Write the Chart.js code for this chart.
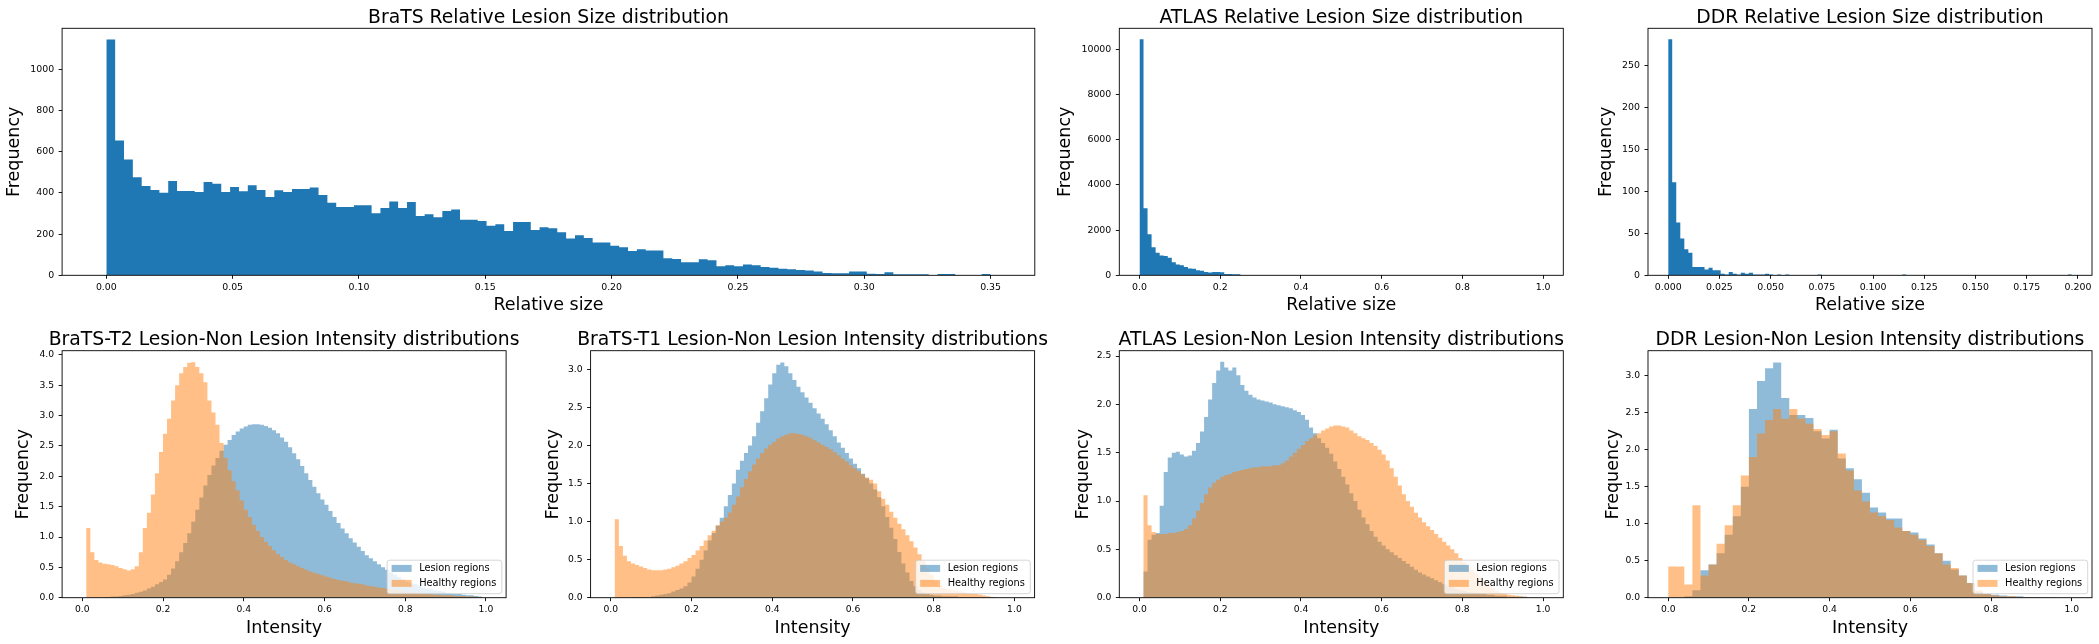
<!DOCTYPE html>
<html>
<head>
<meta charset="utf-8">
<script src="https://cdn.jsdelivr.net/npm/chart.js@4.4.1/dist/chart.umd.min.js"></script>
<style>
  html, body { margin: 0; padding: 0; background: #fff; overflow: hidden; }
  body { width: 2099px; height: 644px; position: relative; }
  canvas { position: absolute; }
</style>
</head>
<body>
<script>
// top row: relative lesion size histograms (100 bins each)
const bratsSizeMax = 0.35;
const bratsSizeCounts = [
  1146, 655, 563, 476, 434, 414, 401, 458, 409, 409,
  405, 453, 445, 405, 429, 408, 438, 414, 380, 413,
  405, 419, 419, 427, 390, 353, 332, 332, 340, 340,
  301, 327, 359, 327, 356, 288, 296, 282, 312, 320,
  270, 270, 264, 241, 248, 215, 259, 259, 220, 233,
  228, 209, 179, 194, 181, 159, 159, 144, 136, 118,
  126, 120, 121, 83, 79, 63, 63, 78, 73, 44,
  49, 44, 53, 49, 40, 37, 32, 29, 26, 23,
  18, 11, 10, 10, 19, 18, 8, 6, 15, 5,
  5, 5, 5, 2, 6, 6, 2, 0, 1, 6
];
const atlasSizeMax = 1.0;
const atlasSizeCounts = [
  10450, 2970, 1820, 1240, 1000, 880, 860, 780, 580, 480,
  440, 370, 300, 290, 220, 200, 150, 120, 150, 150,
  130, 60, 55, 50, 45, 15, 10, 8, 5, 4,
  3, 3, 2, 2, 1, 1, 1, 1, 0, 1,
  0, 1, 0, 0, 1, 0, 0, 0, 0, 0,
  0, 0, 0, 0, 0, 0, 0, 0, 0, 0,
  0, 0, 0, 0, 0, 0, 0, 0, 0, 0,
  0, 0, 0, 0, 0, 0, 0, 0, 0, 0,
  0, 0, 0, 0, 0, 0, 0, 0, 0, 0,
  0, 0, 0, 0, 0, 0, 0, 0, 0, 1
];
const ddrSizeMax = 0.197;
const ddrSizeCounts = [
  282, 111, 63, 44, 31, 27, 10, 10, 10, 7,
  9, 6, 6, 2, 1, 4, 2, 1, 3, 2,
  3, 1, 1, 1, 2, 1, 0, 1, 0, 1,
  0, 0, 0, 0, 0, 0, 0, 1, 0, 0,
  0, 0, 0, 0, 0, 0, 0, 0, 0, 0,
  0, 0, 0, 0, 0, 0, 0, 0, 1, 0,
  0, 0, 0, 0, 0, 0, 0, 0, 0, 0,
  0, 0, 0, 0, 0, 0, 0, 0, 0, 0,
  0, 0, 0, 0, 0, 0, 0, 0, 0, 0,
  0, 0, 0, 0, 0, 0, 0, 0, 0, 1
];

// bottom row: intensity densities on [0, 1]
const t2Lesion = [
  0, 0, 0, 0, 0, 0.01, 0.01, 0.02, 0.02, 0.03,
  0.04, 0.05, 0.06, 0.08, 0.1, 0.12, 0.15, 0.18, 0.22, 0.26,
  0.3, 0.38, 0.48, 0.6, 0.75, 0.9, 1.06, 1.25, 1.45, 1.65,
  1.85, 2.02, 2.18, 2.3, 2.42, 2.52, 2.6, 2.68, 2.74, 2.79,
  2.82, 2.85, 2.86, 2.86, 2.85, 2.83, 2.8, 2.76, 2.71, 2.64,
  2.57, 2.48, 2.38, 2.28, 2.17, 2.05, 1.94, 1.83, 1.72, 1.62,
  1.53, 1.43, 1.33, 1.23, 1.14, 1.06, 0.98, 0.91, 0.84, 0.77,
  0.7, 0.65, 0.6, 0.55, 0.5, 0.46, 0.42, 0.38, 0.34, 0.3,
  0.26, 0.24, 0.22, 0.2, 0.17, 0.15, 0.14, 0.12, 0.11, 0.1,
  0.08, 0.07, 0.06, 0.06, 0.05, 0.04, 0.04, 0.03, 0.02, 0
];
const t2Healthy = [
  0, 1.15, 0.75, 0.62, 0.58, 0.56, 0.55, 0.54, 0.52, 0.49,
  0.47, 0.45, 0.47, 0.52, 0.75, 1.15, 1.4, 1.7, 2.05, 2.4,
  2.7, 2.95, 3.25, 3.5, 3.7, 3.8, 3.87, 3.88, 3.8, 3.7,
  3.55, 3.25, 3.05, 2.85, 2.55, 2.3, 2.1, 1.92, 1.77, 1.6,
  1.45, 1.33, 1.2, 1.1, 1.0, 0.92, 0.85, 0.78, 0.72, 0.67,
  0.62, 0.58, 0.55, 0.52, 0.49, 0.46, 0.43, 0.41, 0.39, 0.37,
  0.35, 0.33, 0.31, 0.29, 0.28, 0.27, 0.25, 0.24, 0.23, 0.22,
  0.2, 0.19, 0.18, 0.17, 0.16, 0.15, 0.14, 0.13, 0.12, 0.11,
  0.1, 0.09, 0.08, 0.08, 0.07, 0.06, 0.06, 0.05, 0.05, 0.04,
  0.04, 0.04, 0.03, 0.03, 0.03, 0.02, 0.02, 0.02, 0.01, 0
];
const t1Lesion = [
  0, 0, 0, 0, 0, 0.01, 0.01, 0.01, 0.01, 0.01,
  0.02, 0.03, 0.04, 0.05, 0.06, 0.08, 0.1, 0.12, 0.15, 0.2,
  0.28, 0.38, 0.5, 0.62, 0.75, 0.85, 0.95, 1.05, 1.2, 1.35,
  1.5, 1.68, 1.8, 1.9, 2.0, 2.12, 2.3, 2.45, 2.62, 2.8,
  2.95, 3.06, 3.09, 3.04, 2.95, 2.86, 2.77, 2.7, 2.63, 2.56,
  2.49, 2.42, 2.35, 2.28, 2.2, 2.12, 2.04, 1.97, 1.9, 1.83,
  1.76, 1.7, 1.63, 1.57, 1.5, 1.42, 1.32, 1.2, 1.06, 0.92,
  0.77, 0.6, 0.45, 0.33, 0.22, 0.15, 0.1, 0.07, 0.05, 0.04,
  0.03, 0.03, 0.02, 0.02, 0.02, 0.02, 0.01, 0.01, 0.01, 0.01,
  0.01, 0.01, 0.01, 0.01, 0.01, 0.01, 0, 0, 0, 0
];
const t1Healthy = [
  0, 1.03, 0.68, 0.55, 0.48, 0.45, 0.43, 0.41, 0.39, 0.37,
  0.36, 0.36, 0.36, 0.37, 0.38, 0.4, 0.42, 0.45, 0.48, 0.52,
  0.56, 0.62, 0.68, 0.75, 0.82, 0.88, 0.95, 1.0, 1.05, 1.12,
  1.22, 1.33, 1.45, 1.56, 1.66, 1.75, 1.83, 1.9, 1.96, 2.01,
  2.05, 2.09, 2.12, 2.14, 2.16, 2.16, 2.15, 2.14, 2.12, 2.1,
  2.07, 2.04, 2.01, 1.98, 1.95, 1.91, 1.87, 1.83, 1.79, 1.74,
  1.7, 1.66, 1.62, 1.58, 1.55, 1.5, 1.4, 1.3, 1.22, 1.13,
  1.05, 0.97, 0.9, 0.82, 0.74, 0.66, 0.57, 0.48, 0.38, 0.3,
  0.22, 0.16, 0.13, 0.11, 0.1, 0.09, 0.08, 0.07, 0.06, 0.05,
  0.05, 0.04, 0.03, 0.02, 0.01, 0, 0, 0, 0, 0
];
const atlasLesion = [
  0, 0.27, 0.6, 0.65, 0.67, 0.95, 1.3, 1.45, 1.5, 1.51,
  1.48, 1.46, 1.47, 1.52, 1.6, 1.72, 1.87, 2.05, 2.22, 2.35,
  2.44, 2.38, 2.35, 2.38, 2.3, 2.2, 2.14, 2.1, 2.07, 2.05,
  2.04, 2.03, 2.02, 2.0, 1.99, 1.98, 1.97, 1.96, 1.94, 1.92,
  1.89, 1.84, 1.76, 1.7, 1.65, 1.6, 1.55, 1.49, 1.41, 1.33,
  1.25, 1.17, 1.08, 1.0, 0.91, 0.83, 0.76, 0.69, 0.63, 0.58,
  0.54, 0.5, 0.47, 0.44, 0.41, 0.38, 0.35, 0.32, 0.29, 0.26,
  0.24, 0.22, 0.2, 0.18, 0.16, 0.14, 0.12, 0.11, 0.09, 0.08,
  0.07, 0.06, 0.05, 0.05, 0.04, 0.04, 0.03, 0.03, 0.02, 0.02,
  0.02, 0.01, 0.01, 0.01, 0.01, 0.01, 0, 0, 0, 0
];
const atlasHealthy = [
  0, 1.06, 0.75, 0.68, 0.66, 0.66, 0.66, 0.67, 0.67, 0.68,
  0.69, 0.71, 0.75, 0.82, 0.9, 0.98, 1.07, 1.14, 1.19, 1.22,
  1.25, 1.27, 1.28, 1.3, 1.31, 1.32, 1.33, 1.34, 1.35, 1.35,
  1.36, 1.36, 1.36, 1.37, 1.37, 1.39, 1.42, 1.46, 1.5, 1.54,
  1.58, 1.62, 1.65, 1.68, 1.7, 1.73, 1.75, 1.77, 1.78, 1.78,
  1.77, 1.76, 1.73, 1.7, 1.67, 1.65, 1.63, 1.6, 1.57, 1.53,
  1.48, 1.42, 1.34, 1.25, 1.16, 1.07, 1.0, 0.94, 0.88, 0.83,
  0.78, 0.74, 0.7, 0.66, 0.62, 0.58, 0.54, 0.5, 0.46, 0.41,
  0.37, 0.33, 0.29, 0.25, 0.21, 0.17, 0.13, 0.1, 0.07, 0.05,
  0.04, 0.03, 0.025, 0.02, 0.015, 0.01, 0.005, 0, 0, 0
];
// DDR uses 50 bins
const ddrLesion = [
  0, 0, 0.02, 0.1, 0.37, 0.45, 0.6, 0.85, 1.1, 1.5,
  2.55, 2.93, 3.1, 3.18, 2.7, 2.47, 2.47, 2.43, 2.25, 2.15,
  2.27, 1.88, 1.75, 1.6, 1.42, 1.22, 1.15, 1.07, 1.07, 0.9,
  0.88, 0.8, 0.72, 0.6, 0.5, 0.38, 0.3, 0.2, 0.08, 0.05,
  0.04, 0.03, 0.02, 0.02, 0.01, 0.01, 0.005, 0.005, 0, 0
];
const ddrHealthy = [
  0.42, 0.42, 0.18, 1.25, 0.3, 0.45, 0.73, 0.98, 1.25, 1.65,
  1.9, 2.22, 2.4, 2.55, 2.42, 2.55, 2.42, 2.35, 2.28, 2.2,
  2.25, 1.95, 1.72, 1.45, 1.3, 1.15, 1.1, 1.05, 0.95, 0.9,
  0.85, 0.78, 0.7, 0.6, 0.45, 0.4, 0.3, 0.2, 0.1, 0.05,
  0.03, 0.02, 0.02, 0.01, 0.01, 0.005, 0.005, 0, 0, 0
];

// tick labels
const bratsXTicks = ['0.00', '0.05', '0.10', '0.15', '0.20', '0.25', '0.30', '0.35'];
const bratsYTicks = ['0', '200', '400', '600', '800', '1000'];
const atlasXTicks = ['0.0', '0.2', '0.4', '0.6', '0.8', '1.0'];
const atlasYTicks = ['0', '2000', '4000', '6000', '8000', '10000'];
const ddrXTicks = ['0.000', '0.025', '0.050', '0.075', '0.100', '0.125', '0.150', '0.175', '0.200'];
const ddrYTicks = ['0', '50', '100', '150', '200', '250'];
const intensityXTicks = ['0.0', '0.2', '0.4', '0.6', '0.8', '1.0'];
const densityYTicks4 = ['0.0', '0.5', '1.0', '1.5', '2.0', '2.5', '3.0', '3.5', '4.0'];
const densityYTicks3 = ['0.0', '0.5', '1.0', '1.5', '2.0', '2.5', '3.0'];
const densityYTicks25 = ['0.0', '0.5', '1.0', '1.5', '2.0', '2.5'];

const FONT = "'DejaVu Sans', sans-serif";
const BLUE = '#1f77b4';
const BLUE_A = 'rgba(31, 119, 180, 0.5)';
const ORANGE_A = 'rgba(255, 127, 14, 0.5)';
const LABEL_SIZE = 17.5;

Chart.defaults.font.family = FONT;
Chart.defaults.color = '#000';

function binEdges(lo, hi, n) {
  let out = [];
  for (let i = 0; i <= n; i++) out.push(lo + (hi - lo) * i / n);
  return out;
}

function histPoints(edges, counts) {
  let pts = counts.map((c, i) => ({x: edges[i], y: c}));
  pts.push({x: edges[counts.length], y: 0});
  return pts;
}

// frame, title and legend box in matplotlib style
const panelDecor = {
  id: 'panelDecor',
  afterDraw(chart, args, o) {
    const ctx = chart.ctx;
    const a = chart.chartArea;
    ctx.save();
    ctx.strokeStyle = '#000';
    ctx.lineWidth = 0.9;
    ctx.strokeRect(a.left, a.top, a.right - a.left, a.bottom - a.top);

    ctx.fillStyle = '#000';
    ctx.font = '18.8px ' + FONT;
    ctx.textAlign = 'center';
    ctx.textBaseline = 'alphabetic';
    ctx.fillText(o.title, (a.left + a.right) / 2, a.top - 5.6);

    if (o.legend) {
      let items = chart.data.datasets;
      ctx.font = '9.8px ' + FONT;
      let tw = Math.max(...items.map(d => ctx.measureText(d.label).width));
      let bw = 32 + tw + 5.5, bh = 33.5;
      let bx = a.right - 4.3 - bw, by = a.bottom - 4 - bh;
      ctx.beginPath();
      ctx.roundRect(bx, by, bw, bh, 2.5);
      ctx.fillStyle = 'rgba(255, 255, 255, 0.8)';
      ctx.fill();
      ctx.strokeStyle = '#cccccc';
      ctx.lineWidth = 0.8;
      ctx.stroke();
      items.forEach((d, i) => {
        let cy = by + 8.2 + i * 15;
        ctx.fillStyle = d.backgroundColor;
        ctx.fillRect(bx + 4.5, cy - 3.5, 20, 7);
        ctx.fillStyle = '#000';
        ctx.textAlign = 'left';
        ctx.textBaseline = 'middle';
        ctx.fillText(d.label, bx + 32, cy);
      });
    }
    ctx.restore();
  }
};

function axis(labels, min, max, size, pad, text) {
  return {
    type: 'linear',
    min: min,
    max: max,
    afterBuildTicks: s => { s.ticks = labels.map(t => ({value: parseFloat(t)})); },
    ticks: {
      autoSkip: false,
      maxRotation: 0,
      padding: pad,
      color: '#000',
      font: {size: size},
      callback: (v, i) => labels[i]
    },
    grid: {drawOnChartArea: false, drawTicks: true, tickLength: 3.5, tickColor: '#000', tickWidth: 0.9},
    border: {display: false},
    title: {display: true, text: text, color: '#000', padding: 0, font: {size: LABEL_SIZE, lineHeight: 1}}
  };
}

function makePanel(p) {
  let [L, T, R, B] = p.frame;
  let yW = p.yLabelOff + 1.7 + LABEL_SIZE / 2;
  let xH = 39.2;
  let cLeft = Math.floor(L - yW), cTop = Math.floor(T - 30);
  let cRight = Math.ceil(R + 24), cBottom = Math.ceil(B + xH);

  let cv = document.createElement('canvas');
  cv.width = cRight - cLeft;
  cv.height = cBottom - cTop;
  cv.style.left = cLeft + 'px';
  cv.style.top = cTop + 'px';
  cv.style.width = cv.width + 'px';
  cv.style.height = cv.height + 'px';
  document.body.appendChild(cv);

  let xScale = axis(p.xTicks, p.xRange[0], p.xRange[1], p.tickSize, 3, p.xLabel);
  xScale.afterFit = s => { s.height = xH; };
  let yScale = axis(p.yTicks, 0, p.yMax, p.tickSize, 4.5, 'Frequency');
  yScale.afterFit = s => { s.width = yW; };

  new Chart(cv, {
    type: 'line',
    data: {
      datasets: p.series.map(s => ({
        label: s.label,
        data: histPoints(s.edges, s.values),
        stepped: true,
        fill: 'origin',
        backgroundColor: s.color,
        borderColor: 'rgba(0, 0, 0, 0)',
        borderWidth: 0,
        pointRadius: 0,
        order: s.order || 0
      }))
    },
    options: {
      responsive: false,
      animation: false,
      devicePixelRatio: 1,
      layout: {padding: {left: L - yW - cLeft, top: T - cTop, right: cRight - R, bottom: cBottom - (B + xH)}},
      plugins: {
        legend: {display: false},
        tooltip: {enabled: false},
        panelDecor: {title: p.title, legend: p.legend}
      },
      scales: {x: xScale, y: yScale}
    },
    plugins: [panelDecor]
  });
}

const edges100 = binEdges(0, 1, 100);
const edges50 = binEdges(0, 1, 50);

function pair(lesion, healthy, edges) {
  return [
    {label: 'Lesion regions', values: lesion, edges: edges, color: BLUE_A, order: 1},
    {label: 'Healthy regions', values: healthy, edges: edges, color: ORANGE_A, order: 0}
  ];
}

const TOP = [28.3, 275.3];
const BOT = [350.7, 597.7];

const panels = [
  {frame: [62.1, TOP[0], 1034.8, TOP[1]], title: 'BraTS Relative Lesion Size distribution', xLabel: 'Relative size',
   xRange: [-0.0175, 0.3675], yMax: 1200, xTicks: bratsXTicks, yTicks: bratsYTicks, yLabelOff: 46.3, tickSize: 9.4,
   series: [{label: 'BraTS', values: bratsSizeCounts, edges: binEdges(0, bratsSizeMax, 100), color: BLUE}]},
  {frame: [1119.3, TOP[0], 1563.3, TOP[1]], title: 'ATLAS Relative Lesion Size distribution', xLabel: 'Relative size',
   xRange: [-0.05, 1.05], yMax: 10940, xTicks: atlasXTicks, yTicks: atlasYTicks, yLabelOff: 52, tickSize: 9.4,
   series: [{label: 'ATLAS', values: atlasSizeCounts, edges: binEdges(0, atlasSizeMax, 100), color: BLUE}]},
  {frame: [1648, TOP[0], 2092, TOP[1]], title: 'DDR Relative Lesion Size distribution', xLabel: 'Relative size',
   xRange: [-0.00985, 0.20685], yMax: 295, xTicks: ddrXTicks, yTicks: ddrYTicks, yLabelOff: 39.7, tickSize: 9.4,
   series: [{label: 'DDR', values: ddrSizeCounts, edges: binEdges(0, ddrSizeMax, 100), color: BLUE}]},
  {frame: [62.1, BOT[0], 506.1, BOT[1]], title: 'BraTS-T2 Lesion-Non Lesion Intensity distributions', xLabel: 'Intensity',
   xRange: [-0.05, 1.05], yMax: 4.07, xTicks: intensityXTicks, yTicks: densityYTicks4, yLabelOff: 36.6, tickSize: 9.2,
   series: pair(t2Lesion, t2Healthy, edges100), legend: true},
  {frame: [590.6, BOT[0], 1034.6, BOT[1]], title: 'BraTS-T1 Lesion-Non Lesion Intensity distributions', xLabel: 'Intensity',
   xRange: [-0.05, 1.05], yMax: 3.245, xTicks: intensityXTicks, yTicks: densityYTicks3, yLabelOff: 35.2, tickSize: 9.2,
   series: pair(t1Lesion, t1Healthy, edges100), legend: true},
  {frame: [1119.3, BOT[0], 1563.3, BOT[1]], title: 'ATLAS Lesion-Non Lesion Intensity distributions', xLabel: 'Intensity',
   xRange: [-0.05, 1.05], yMax: 2.555, xTicks: intensityXTicks, yTicks: densityYTicks25, yLabelOff: 33.9, tickSize: 9.2,
   series: pair(atlasLesion, atlasHealthy, edges100), legend: true},
  {frame: [1648, BOT[0], 2092, BOT[1]], title: 'DDR Lesion-Non Lesion Intensity distributions', xLabel: 'Intensity',
   xRange: [-0.05, 1.05], yMax: 3.338, xTicks: intensityXTicks, yTicks: densityYTicks3, yLabelOff: 33, tickSize: 9.2,
   series: pair(ddrLesion, ddrHealthy, edges50), legend: true}
];

panels.forEach(makePanel);
</script>
</body>
</html>
